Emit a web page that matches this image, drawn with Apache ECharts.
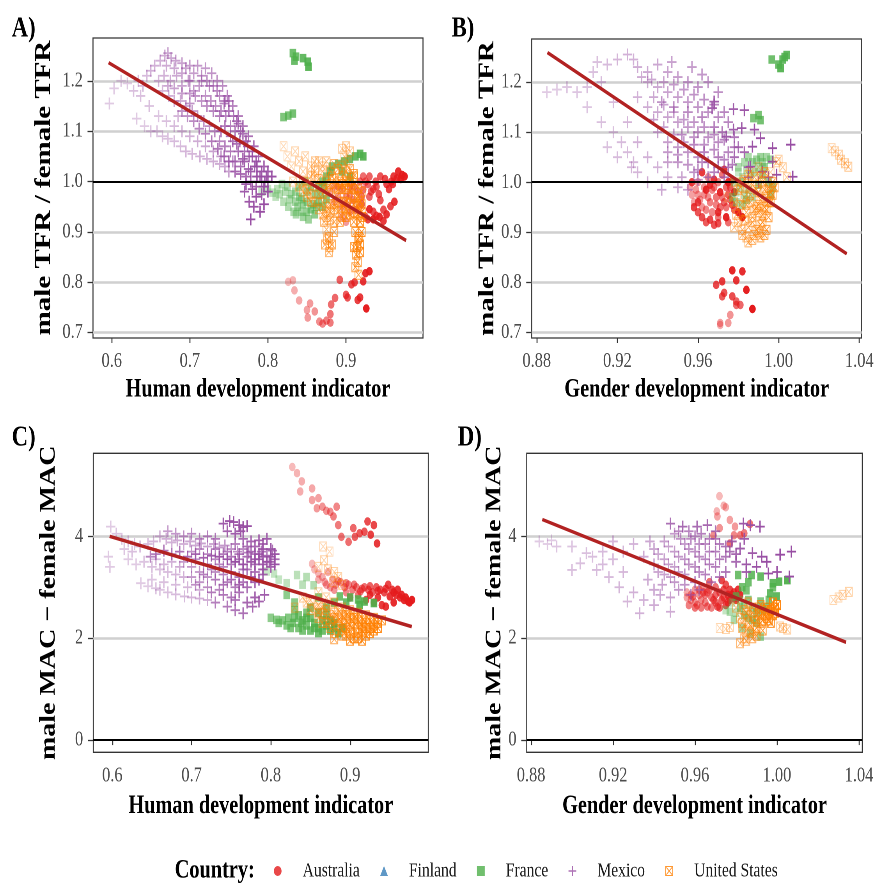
<!DOCTYPE html>
<html>
<head>
<meta charset="utf-8">
<script src="https://cdn.jsdelivr.net/npm/echarts@6/dist/echarts.min.js"></script>
<style>
html,body{margin:0;padding:0;background:#fff;overflow:hidden;}
#wrap{width:875px;height:886px;overflow:hidden;position:relative;background:#fff;}
#chart{width:1122px;height:886px;transform:scaleX(0.78);transform-origin:0 0;}
</style>
</head>
<body>
<div id="wrap"><div id="chart"></div></div>
<script>
// ---------------- DATA ----------------
const countries = ['Australia', 'Finland', 'France', 'Mexico', 'United States'];
const ticksHDI = [0.6, 0.7, 0.8, 0.9];
const ticksGDI = [0.88, 0.92, 0.96, 1.00, 1.04];
const ticksTFR = [0.7, 0.8, 0.9, 1.0, 1.1, 1.2];
const ticksMAC = [0, 2, 4];
const refTFR = 1.0;
const refMAC = 0;
const xNameHDI = 'Human development indicator';
const xNameGDI = 'Gender development indicator';
const yNameTFR = 'male TFR / female TFR';
const yNameMAC = 'male MAC \u2212 female MAC';
const panelLabels = ['A)', 'B)', 'C)', 'D)'];

// points: [indicator, outcome, year]
// Panel A: HDI vs TFR ratio
const mexA = [[0.597,1.155,1990],[0.603,1.185,1990],[0.612,1.2,1990],[0.62,1.195,1990],[0.628,1.18,1992],[0.634,1.2,1992],[0.64,1.19,1993],[0.645,1.21,1993],[0.637,1.17,1992],[0.65,1.22,1995],
[0.655,1.23,1995],[0.662,1.24,1995],[0.668,1.25,1996],[0.672,1.255,1997],[0.676,1.245,1997],[0.682,1.24,1998],[0.69,1.235,1998],[0.7,1.23,1999],[0.71,1.23,2000],[0.72,1.225,2000],[0.728,1.215,2001],[0.735,1.2,2002],[0.742,1.19,2003],[0.748,1.17,2004],[0.755,1.15,2005],[0.762,1.13,2006],[0.768,1.11,2007],[0.775,1.09,2008],[0.782,1.07,2009],[0.788,1.05,2010],[0.795,1.03,2011],[0.8,1.02,2012],
[0.66,1.2,1994],[0.667,1.21,1995],[0.675,1.2,1996],[0.683,1.21,1997],[0.69,1.19,1998],[0.698,1.2,1999],[0.705,1.18,2000],[0.712,1.19,2000],[0.72,1.17,2001],[0.727,1.16,2002],[0.733,1.15,2003],[0.74,1.14,2004],[0.746,1.13,2004],[0.752,1.11,2005],[0.758,1.1,2006],[0.764,1.08,2007],[0.77,1.06,2008],[0.776,1.05,2009],[0.783,1.03,2010],[0.79,1.01,2011],[0.796,1.0,2012],
[0.665,1.18,1994],[0.673,1.17,1995],[0.68,1.16,1996],[0.688,1.16,1997],[0.695,1.15,1998],[0.703,1.14,1999],[0.71,1.13,2000],[0.718,1.12,2001],[0.725,1.11,2002],[0.732,1.1,2003],[0.738,1.08,2004],[0.745,1.07,2005],[0.752,1.06,2006],[0.758,1.04,2007],[0.765,1.03,2008],[0.772,1.01,2009],[0.778,1.0,2010],[0.785,0.99,2011],[0.77,0.98,2012],[0.776,0.96,2013],[0.782,0.95,2014],[0.79,0.94,2015],[0.778,0.925,2015],[0.8,1.0,2013],[0.792,0.975,2013],[0.805,1.01,2014],
[0.7,1.2,2001],[0.715,1.21,2002],[0.725,1.19,2003],[0.735,1.18,2004],[0.745,1.16,2006],[0.75,1.14,2007],[0.76,1.12,2008],[0.765,1.1,2009],[0.772,1.08,2010],[0.78,1.06,2011],[0.785,1.04,2012],[0.792,1.02,2013],[0.74,1.1,2006],[0.755,1.08,2008],[0.762,1.06,2009],[0.77,1.04,2011],[0.778,1.02,2012],[0.786,1.01,2014],[0.795,0.99,2015],[0.8,0.98,2015],
[0.632,1.125,1990],[0.642,1.11,1990],[0.65,1.1,1991],[0.658,1.1,1991],[0.665,1.09,1992],[0.672,1.085,1992],[0.68,1.08,1993],[0.688,1.07,1993],[0.695,1.06,1994],[0.703,1.055,1994],[0.713,1.05,1995],[0.722,1.045,1995],[0.73,1.04,1996],[0.738,1.035,1996],[0.745,1.03,1997],[0.75,1.02,1998],[0.66,1.13,1991],[0.67,1.12,1992],[0.68,1.11,1993],[0.69,1.1,1994],[0.7,1.09,1995],[0.71,1.08,1996],[0.72,1.07,1997],[0.73,1.06,1998],[0.74,1.05,1999],[0.755,1.04,2000],[0.648,1.15,1992],[0.685,1.13,1994],
[0.67,1.23,1996],[0.68,1.225,1997],[0.69,1.215,1998],[0.695,1.225,1998],[0.705,1.215,1999],[0.715,1.2,2000],[0.722,1.2,2001],[0.73,1.19,2002],[0.738,1.17,2003],[0.744,1.155,2004],[0.75,1.16,2005],[0.756,1.13,2006],[0.762,1.115,2007],[0.768,1.095,2008],[0.774,1.07,2009],[0.78,1.05,2010],[0.786,1.03,2011],[0.792,1.0,2012],[0.798,1.01,2013],[0.775,1.025,2012],[0.768,1.045,2010],[0.76,1.075,2008],[0.752,1.09,2007],[0.745,1.11,2006],[0.738,1.13,2005],[0.73,1.14,2004],[0.722,1.15,2003],[0.715,1.16,2002],[0.707,1.17,2001],[0.7,1.175,2000],[0.69,1.175,1999],[0.68,1.185,1998],[0.672,1.19,1997],[0.785,0.97,2014],[0.795,0.955,2015],[0.78,0.985,2013],[0.772,0.995,2012],[0.765,1.015,2011],[0.758,1.02,2010],[0.75,1.04,2009],[0.744,1.05,2008],[0.736,1.065,2007],[0.728,1.08,2006],[0.72,1.095,2005],[0.712,1.105,2004],[0.705,1.12,2003],[0.697,1.13,2002],[0.69,1.14,2001],[0.7,1.155,2001]];
const usaA = [[0.82,1.07,1990],[0.825,1.05,1990],[0.83,1.03,1991],[0.835,1.06,1991],[0.84,1.04,1992],[0.845,1.02,1992],[0.848,1.05,1993],[0.855,1.03,1994],[0.86,1.01,1994],[0.85,1.0,1993],[0.865,1.04,1995],[0.87,1.02,1995],[0.895,1.065,1992],[0.9,1.07,1993],[0.905,1.06,1994],[0.898,1.05,1995],[0.902,1.04,1996],[0.895,1.03,1997],[0.84,0.99,1993],[0.832,1.0,1991],
[0.86,0.99,1997],[0.865,0.975,1998],[0.87,0.99,1999],[0.875,1.0,2000],[0.878,0.98,2000],[0.882,1.01,2001],[0.885,0.99,2001],[0.888,0.97,2002],[0.892,1.0,2002],[0.895,0.985,2003],[0.898,0.96,2003],[0.9,1.0,2004],[0.903,0.975,2004],[0.906,0.99,2005],[0.91,1.01,2005],[0.912,0.97,2006],[0.915,0.99,2006],[0.918,0.96,2007],[0.92,0.98,2007],[0.87,0.96,1998],[0.875,0.95,1999],[0.88,0.94,2000],[0.885,0.955,2001],[0.89,0.94,2002],[0.895,0.93,2003],[0.9,0.945,2004],[0.905,0.955,2005],[0.91,0.94,2006],[0.915,0.95,2008],[0.92,0.94,2009],[0.88,1.02,2000],[0.89,1.025,2001],[0.9,1.02,2003],[0.91,1.015,2005],[0.86,0.96,1997],[0.855,0.975,1996],
[0.872,0.92,1999],[0.875,0.905,2000],[0.878,0.89,2001],[0.873,0.875,2000],[0.878,0.86,1999],[0.882,0.875,2002],[0.885,0.9,2003],[0.91,0.92,2006],[0.912,0.9,2007],[0.915,0.885,2008],[0.91,0.87,2007],[0.913,0.855,2006],[0.918,0.86,2009],[0.915,0.84,2008],[0.912,0.83,2005],[0.916,0.815,2004],[0.92,0.9,2010],[0.918,0.875,2009],
[0.845,1.0,1995],[0.85,0.985,1996],[0.855,1.01,1997],[0.86,1.02,1998],[0.865,1.005,1999],[0.87,0.975,2000],[0.875,0.985,2001],[0.88,0.995,2002],[0.885,1.005,2003],[0.89,0.985,2004],[0.895,0.995,2005],[0.9,0.985,2006],[0.905,1.0,2007],[0.91,0.985,2008],[0.915,0.97,2009],[0.92,0.955,2010],[0.865,0.945,1999],[0.87,0.935,2000],[0.875,0.94,2001],[0.88,0.955,2002],[0.885,0.945,2003],[0.89,0.96,2004],[0.895,0.95,2005],[0.9,0.96,2006],[0.905,0.935,2007],[0.91,0.955,2008],[0.915,0.935,2009],[0.88,0.925,2001],[0.885,0.92,2002],[0.875,0.93,2000],[0.86,1.04,1996],[0.87,1.03,1997],[0.875,1.04,1998],[0.885,1.035,1999],[0.895,1.01,2000],[0.905,1.025,2001],[0.855,0.96,1997],[0.85,0.97,1996],[0.845,0.98,1995],[0.9,0.93,2005],[0.892,0.92,2004],[0.918,0.92,2010],[0.921,0.93,2011],[0.876,0.885,2001],[0.879,0.87,2002],[0.914,0.87,2007],[0.917,0.89,2009]];
const fraA = [[0.832,1.255,2008],[0.834,1.24,2009],[0.845,1.245,2010],[0.851,1.238,2011],[0.852,1.228,2012],[0.836,1.248,2008],
[0.82,1.128,2005],[0.826,1.131,2006],[0.832,1.135,2007],
[0.792,0.98,1990],[0.8,0.985,1991],[0.806,0.978,1992],[0.812,0.985,1993],[0.818,0.995,1994],[0.825,0.99,1995],[0.83,0.975,1996],[0.835,0.96,1997],[0.84,0.97,1998],[0.845,0.955,1999],[0.85,0.94,2000],[0.855,0.945,2001],[0.86,0.935,2002],[0.84,0.99,1998],[0.848,1.0,1999],[0.855,0.99,2000],[0.86,0.975,2001],[0.865,0.96,2002],[0.87,0.95,2003],[0.875,0.965,2004],[0.865,0.99,2003],[0.87,1.0,2004],[0.875,1.01,2005],[0.88,1.02,2006],[0.82,0.96,1994],[0.826,0.95,1995],[0.833,0.94,1996],[0.845,0.93,1998],[0.852,0.925,1999],
[0.882,1.03,2006],[0.89,1.035,2007],[0.898,1.04,2008],[0.905,1.045,2009],[0.912,1.05,2010],[0.918,1.055,2011],[0.922,1.05,2012],[0.895,1.02,2007],[0.905,1.01,2008],
[0.81,0.97,1992],[0.815,0.975,1993],[0.822,0.98,1994],[0.828,0.965,1995],[0.838,0.95,1997],[0.843,0.965,1998],[0.85,0.96,1999],[0.858,0.955,2001],[0.862,0.95,2002],[0.868,0.975,2003],[0.872,0.99,2004],[0.85,0.98,1999],[0.835,0.98,1996],[0.836,0.935,1996],[0.842,0.94,1997]];
const ausA = [[0.88,0.98,1993],[0.885,0.96,1994],[0.89,0.99,1995],[0.895,0.95,1996],[0.9,0.97,1997],[0.905,0.99,1998],[0.905,0.94,1998],[0.909,0.963,1999],[0.913,0.944,2000],[0.918,1.0,2001],[0.922,1.01,2002],[0.922,0.984,2002],[0.928,0.995,2003],[0.93,0.97,2003],[0.93,1.01,2004],[0.935,0.985,2005],[0.939,0.99,2005],[0.944,1.01,2006],[0.944,0.963,2006],[0.948,0.944,2007],[0.952,0.995,2008],[0.957,0.951,2008],[0.958,1.0,2009],[0.961,1.01,2010],[0.965,1.006,2011],[0.967,1.02,2012],[0.972,1.013,2013],[0.975,1.01,2014],[0.939,0.932,2009],[0.948,0.922,2010],[0.928,0.925,2008],[0.935,0.94,2007],[0.92,0.955,2004],[0.895,0.93,1994],[0.9,0.92,1995],[0.925,0.93,2006],
[0.885,0.99,1994],[0.89,0.97,1995],[0.895,0.985,1996],[0.9,0.955,1997],[0.905,0.975,1998],[0.91,0.99,1999],[0.915,0.98,2000],[0.92,0.97,2001],[0.925,1.0,2002],[0.932,0.98,2004],[0.938,1.0,2005],[0.942,0.975,2006],[0.95,1.005,2008],[0.955,0.985,2009],[0.96,0.995,2010],[0.97,1.005,2013],[0.962,0.96,2011],[0.952,0.935,2011],[0.943,0.93,2012],[0.935,0.925,2013],[0.93,0.945,2012],
[0.826,0.801,1990],[0.832,0.804,1991],[0.834,0.784,1992],[0.84,0.764,1993],[0.85,0.745,1994],[0.854,0.758,1995],[0.86,0.742,1996],[0.851,0.73,1995],[0.866,0.722,1997],[0.87,0.718,1998],[0.875,0.724,1999],[0.88,0.72,2000],[0.88,0.737,2001],[0.881,0.756,2002],[0.886,0.769,2003],[0.892,0.805,2004],[0.9,0.775,2005],[0.902,0.77,2006],[0.907,0.796,2007],[0.911,0.8,2008],[0.915,0.765,2009],[0.918,0.77,2010],[0.922,0.802,2011],[0.925,0.818,2012],[0.93,0.822,2013],[0.926,0.748,2014]];
const finA = [];

// Panel B: GDI vs TFR ratio
const mexB = [[0.885,1.18,1990],[0.89,1.185,1990],[0.895,1.19,1991],[0.9,1.18,1991],[0.905,1.19,1992],[0.91,1.24,1992],[0.915,1.235,1993],[0.908,1.22,1992],[0.92,1.245,1994],[0.925,1.255,1995],[0.928,1.245,1995],[0.912,1.2,1993],
[0.905,1.15,1991],[0.912,1.12,1992],[0.918,1.1,1992],[0.922,1.08,1993],[0.925,1.06,1993],[0.928,1.04,1994],[0.93,1.02,1994],[0.935,1.05,1995],[0.94,1.03,1995],[0.945,1.01,1996],[0.95,0.99,1997],[0.955,0.985,1998],[0.935,1.0,1996],[0.942,0.985,1997],[0.92,1.05,1993],[0.927,1.03,1994],[0.915,1.07,1992],[0.93,1.08,1995],[0.925,1.12,1994],[0.918,1.16,1993],
[0.93,1.23,1996],[0.935,1.22,1997],[0.94,1.235,1997],[0.945,1.22,1998],[0.95,1.21,1999],[0.955,1.2,2000],[0.96,1.19,2001],[0.965,1.2,2001],[0.97,1.18,2002],[0.935,1.2,1996],[0.94,1.19,1997],[0.945,1.18,1998],[0.95,1.17,1999],[0.955,1.16,2000],[0.96,1.15,2001],[0.965,1.14,2002],[0.97,1.13,2003],[0.975,1.12,2004],[0.93,1.17,1995],[0.935,1.15,1996],[0.94,1.14,1997],[0.945,1.13,1998],[0.95,1.12,1999],[0.955,1.11,2000],[0.96,1.1,2001],[0.965,1.09,2002],[0.97,1.08,2003],[0.975,1.06,2004],[0.94,1.1,1998],[0.945,1.08,1999],[0.95,1.07,2000],[0.955,1.06,2001],[0.96,1.05,2002],[0.965,1.04,2003],[0.97,1.03,2004],[0.95,1.04,2001],[0.958,1.02,2002],[0.965,1.01,2004],[0.945,1.06,2000],[0.962,1.13,2004],[0.968,1.11,2005],[0.955,1.14,2003],[0.948,1.15,2002],[0.942,1.16,2001],[0.938,1.125,1999],[0.952,1.095,2003],[0.958,1.075,2004],[0.963,1.06,2005],[0.97,1.05,2006],[0.975,1.03,2007],[0.972,1.1,2006],[0.978,1.09,2007],[0.98,1.07,2008],[0.978,1.05,2009],[0.983,1.06,2010],[0.985,1.03,2010],
[0.932,1.21,1996],[0.937,1.205,1997],[0.943,1.2,1998],[0.948,1.195,1999],[0.953,1.185,2000],[0.958,1.175,2001],[0.963,1.165,2002],[0.968,1.155,2003],[0.973,1.14,2004],[0.938,1.17,1997],[0.943,1.155,1998],[0.948,1.14,1999],[0.953,1.125,2000],[0.958,1.12,2001],[0.963,1.11,2002],[0.968,1.095,2003],[0.973,1.085,2004],[0.978,1.07,2005],[0.943,1.11,1998],[0.948,1.095,1999],[0.953,1.08,2000],[0.958,1.09,2001],[0.963,1.075,2002],[0.968,1.065,2003],[0.973,1.045,2004],[0.977,1.035,2005],[0.955,1.035,2001],[0.96,1.025,2002],[0.962,1.04,2003],[0.968,1.02,2005],[0.973,1.01,2006],[0.95,1.055,2000],[0.945,1.04,1999],[0.952,1.01,1998],[0.96,1.005,2000],[0.957,1.23,1999],[0.962,1.215,2000],[0.947,1.24,1998],
[0.9776,1.146,2012],[0.983,1.144,2013],[0.9817,1.108,2013],[0.988,1.105,2014],[0.991,1.088,2014],[0.987,1.071,2014],[0.997,1.068,2015],[1.006,1.075,2015],[0.997,1.041,2015],[0.992,1.021,2015],[0.999,1.015,2015],[1.007,1.011,2015],[0.986,1.031,2014],[0.9776,1.105,2012],[0.974,1.091,2012],[0.968,1.161,2011],[0.967,1.148,2011],[0.99,1.0,2014],[0.995,1.01,2015],[0.985,1.01,2013]];
const usaB = [[0.982,1.0,2000],[0.985,0.99,2001],[0.988,1.01,2002],[0.99,0.98,2003],[0.992,1.0,2004],[0.995,0.99,2005],[0.983,0.97,2001],[0.986,0.96,2002],[0.989,0.95,2003],[0.991,0.965,2004],[0.994,0.97,2005],[0.996,0.98,2006],[0.984,0.94,2002],[0.987,0.93,2003],[0.99,0.94,2004],[0.993,0.95,2006],[0.981,0.955,2000],[0.98,0.985,1999],[0.997,1.0,2007],[0.993,1.02,2006],[0.978,0.96,1998],[0.979,0.935,1999],
[0.975,0.97,1990],[0.978,1.0,1991],[0.996,1.02,1992],[0.999,1.04,1993],[1.002,1.03,1994],[1.004,1.01,1995],[1.0,1.045,1993],[0.99,1.03,1992],[0.986,1.02,1991],
[0.98,0.92,1998],[0.982,0.905,1999],[0.984,0.89,2000],[0.985,0.88,2001],[0.987,0.885,2002],[0.99,0.9,2004],[0.991,0.89,2005],[0.993,0.895,2006],[0.978,0.91,1997],[0.992,0.92,2005],
[0.981,0.99,1999],[0.983,1.005,2000],[0.985,1.015,2001],[0.987,0.995,2002],[0.989,0.985,2003],[0.991,1.01,2004],[0.993,0.985,2005],[0.995,0.96,2006],[0.997,0.975,2007],[0.984,0.955,2001],[0.986,0.975,2002],[0.988,0.945,2003],[0.99,0.955,2004],[0.992,0.935,2005],[0.994,0.945,2006],[0.996,0.96,2007],[0.983,0.925,2001],[0.985,0.91,2002],[0.987,0.92,2003],[0.989,0.905,2004],[0.991,0.915,2005],[0.982,0.895,2000],[0.988,0.895,2003],[0.994,0.905,2006],[0.995,0.93,2007],[0.998,0.99,2008],
[1.0263,1.068,1990],[1.028,1.062,1991],[1.03,1.055,1992],[1.031,1.045,1993],[1.033,1.038,1994],[1.0346,1.031,1995]];
const fraB = [[0.9966,1.245,2008],[1.0,1.235,2009],[1.002,1.245,2010],[1.004,1.254,2011],[1.001,1.228,2012],[1.003,1.25,2010],
[0.9875,1.128,2005],[0.99,1.134,2006],[0.991,1.124,2007],
[0.98,1.02,1990],[0.982,1.01,1991],[0.984,1.025,1992],[0.986,1.015,1993],[0.988,1.02,1994],[0.99,1.03,1995],[0.992,1.04,1996],[0.994,1.05,1997],[0.996,1.045,1998],[0.981,0.99,1992],[0.983,0.975,1993],[0.985,0.985,1994],[0.987,0.97,1995],[0.979,0.96,1996],[0.982,0.955,1997],[0.984,0.965,1998],[0.995,1.0,1999],[0.997,0.99,2000],[0.996,0.975,2001],[0.99,0.995,2000],
[0.979,0.98,1993],[0.981,1.0,1994],[0.983,1.04,1995],[0.985,1.05,1996],[0.987,1.04,1997],[0.989,1.045,1998],[0.991,1.05,1999],[0.993,1.03,2000],[0.978,1.0,1994],[0.98,1.03,1995],[0.977,0.97,1996],[0.992,1.015,2000]];
const ausB = [[0.956,0.99,1993],[0.958,0.96,1994],[0.96,1.0,1995],[0.96,0.975,1995],[0.962,0.95,1996],[0.963,0.99,1996],[0.965,1.01,1997],[0.965,0.97,1997],[0.967,0.94,1998],[0.967,0.985,1998],[0.969,0.955,1999],[0.97,1.0,1999],[0.97,0.93,2000],[0.972,0.97,2000],[0.972,1.015,2001],[0.974,0.95,2001],[0.974,0.99,2002],[0.975,0.92,2002],[0.976,0.965,2003],[0.977,1.005,2004],[0.978,0.945,2004],[0.964,0.92,2005],[0.968,0.915,2006],[0.97,0.918,2007],[0.96,0.96,2008],[0.957,1.0,2009],[0.962,1.02,2010],[0.966,0.995,2011],[0.971,0.98,2012],[0.975,1.0,2013],[0.98,0.94,2014],[0.982,0.93,2015],[0.978,0.98,2012],[0.96,0.94,2006],[0.973,1.025,2011],
[0.957,0.975,1994],[0.959,0.985,1995],[0.961,0.965,1996],[0.963,0.975,1997],[0.964,0.945,1998],[0.966,0.96,1999],[0.968,0.99,2000],[0.969,0.97,2001],[0.971,0.95,2002],[0.973,0.96,2003],[0.975,0.975,2004],[0.976,0.99,2005],[0.977,0.955,2006],[0.962,0.93,2007],[0.966,0.925,2008],[0.958,0.95,2009],[0.968,1.005,2010],[0.97,0.94,2011],[0.964,0.985,2012],[0.974,0.93,2013],
[0.977,0.824,2013],[0.982,0.822,2012],[0.972,0.802,2010],[0.969,0.795,2008],[0.979,0.804,2011],[0.984,0.785,2014],[0.973,0.779,2006],[0.972,0.772,2005],[0.977,0.772,2007],[0.979,0.762,2004],[0.981,0.755,2003],[0.979,0.755,2002],[0.987,0.747,2015],[0.976,0.735,1996],[0.971,0.719,1994],[0.975,0.719,1995],[0.971,0.715,1992]];
const finB = [];

// Panel C: HDI vs MAC difference
const mexC = [[0.595,3.6,1990],[0.597,3.4,1990],[0.598,4.19,1990],[0.605,4.05,1991],[0.612,3.95,1991],[0.62,3.9,1992],[0.628,3.85,1992],[0.615,3.75,1991],[0.625,3.7,1992],[0.635,3.8,1993],
[0.645,3.85,1993],[0.652,3.9,1994],[0.66,4.0,1994],[0.668,3.95,1995],[0.675,3.88,1995],[0.682,3.92,1996],[0.69,3.85,1996],[0.698,3.9,1997],[0.705,3.82,1997],[0.712,3.86,1998],[0.72,3.8,1998],[0.728,3.85,1999],[0.735,3.78,2000],[0.742,3.82,2000],[0.75,3.75,2001],[0.758,3.7,2002],[0.765,3.75,2003],[0.772,3.68,2004],[0.78,3.65,2005],[0.788,3.7,2006],[0.795,3.62,2007],[0.802,3.72,2008],[0.805,3.55,2009],[0.798,3.5,2010],[0.79,3.45,2011],[0.785,3.55,2012],[0.775,3.5,2013],[0.765,3.45,2014],[0.755,3.5,2015],[0.745,3.55,2014],[0.735,3.6,2013],[0.725,3.62,2012],[0.715,3.58,2011],[0.705,3.65,2010],[0.695,3.6,2009],[0.685,3.7,2008],[0.675,3.65,2007],[0.665,3.72,2006],[0.655,3.65,2005],[0.648,3.6,2004],
[0.74,4.25,2012],[0.748,4.3,2013],[0.753,4.28,2013],[0.76,4.22,2014],[0.765,4.18,2014],[0.77,4.2,2015],[0.745,4.1,2011],[0.755,4.05,2012],[0.762,4.1,2013],
[0.636,3.08,1990],[0.645,3.02,1990],[0.655,2.98,1991],[0.66,2.95,1991],[0.67,2.9,1992],[0.68,2.86,1993],[0.691,2.82,1993],[0.7,2.8,1994],[0.71,2.78,1995],[0.72,2.75,1996],[0.65,3.15,1991],[0.665,3.1,1992],[0.68,3.05,1993],[0.695,3.0,1994],[0.71,2.95,1995],
[0.73,2.7,2005],[0.745,2.62,2006],[0.755,2.55,2007],[0.765,2.49,2008],[0.777,2.62,2010],[0.785,2.72,2011],[0.792,2.85,2012],[0.75,2.8,2007],[0.76,2.9,2008],[0.735,2.95,2004],[0.72,3.0,2003],[0.705,3.05,2002],[0.77,3.0,2009],[0.78,3.1,2010],
[0.69,3.5,1999],[0.7,3.4,2000],[0.71,3.3,2001],[0.72,3.2,2002],[0.73,3.3,2003],[0.74,3.4,2004],[0.75,3.3,2005],[0.76,3.2,2006],[0.77,3.35,2007],[0.78,3.3,2009],[0.79,3.25,2010],[0.8,3.4,2011],[0.72,3.45,2003],[0.73,3.55,2004],[0.74,3.65,2006],[0.75,3.6,2007],[0.76,3.55,2008],[0.77,3.6,2009],[0.78,3.8,2010],[0.79,3.85,2011],[0.8,3.75,2012],[0.795,3.95,2012],[0.785,3.92,2011],[0.775,3.9,2010],[0.765,3.95,2009],[0.73,3.95,2006],[0.72,4.0,2005],[0.71,3.95,2004],[0.7,4.05,2003],[0.69,4.0,2002],[0.68,4.05,2000],[0.67,4.1,1999],[0.7,3.2,2000],[0.71,3.1,2001],[0.745,3.1,2005],[0.755,3.0,2006],[0.765,3.1,2007],[0.78,3.55,2011],[0.79,3.6,2012],[0.805,3.65,2013],
[0.64,3.5,1991],[0.65,3.4,1992],[0.66,3.35,1992],[0.67,3.3,1993],[0.68,3.25,1994],[0.69,3.2,1995],[0.655,3.55,1993],[0.665,3.45,1994],[0.675,3.5,1995],[0.685,3.4,1996],[0.62,3.55,1990],[0.63,3.45,1990],
[0.7,3.7,2001],[0.705,3.55,2001],[0.71,3.75,2002],[0.715,3.45,2002],[0.72,3.65,2003],[0.725,3.35,2003],[0.73,3.75,2004],[0.735,3.45,2004],[0.74,3.25,2005],[0.745,3.7,2005],[0.75,3.45,2006],[0.755,3.85,2006],[0.76,3.65,2007],[0.765,3.35,2007],[0.77,3.8,2008],[0.775,3.7,2008],[0.78,3.45,2009],[0.785,3.65,2010],[0.79,3.75,2011],[0.795,3.5,2012],[0.8,3.6,2013],[0.805,3.45,2014],[0.79,3.35,2013],[0.775,3.2,2011],[0.785,3.15,2012],[0.76,3.05,2010],[0.75,3.15,2009],[0.74,3.05,2008],[0.73,3.15,2007],[0.715,3.25,2005],[0.725,2.9,2006],[0.74,2.85,2007],[0.755,2.75,2008],[0.77,2.7,2010],[0.78,2.8,2011]];
const usaC = [[0.866,3.8,1990],[0.874,3.7,1990],[0.867,3.53,1991],[0.86,3.4,1991],[0.872,3.35,1992],[0.88,3.3,1992],[0.885,3.2,1993],[0.878,3.1,1993],[0.89,3.05,1994],
[0.84,2.8,1995],[0.845,2.7,1996],[0.85,2.75,1996],[0.855,2.6,1997],[0.86,2.65,1998],[0.865,2.5,1998],[0.87,2.55,1999],[0.875,2.45,2000],[0.88,2.5,2000],[0.885,2.4,2001],[0.89,2.45,2002],[0.895,2.35,2003],[0.9,2.4,2004],[0.905,2.3,2005],[0.91,2.35,2006],[0.915,2.25,2007],[0.92,2.3,2008],[0.925,2.2,2009],[0.93,2.25,2010],[0.935,2.3,2011],[0.87,2.3,2000],[0.875,2.2,2001],[0.88,2.1,2002],[0.885,2.25,2003],[0.89,2.15,2004],[0.895,2.05,2005],[0.9,2.15,2006],[0.905,2.0,2007],[0.91,2.1,2008],[0.915,1.95,2009],[0.92,2.05,2010],[0.925,2.1,2011],[0.86,2.4,1999],[0.865,2.3,2000],[0.85,2.55,1998],[0.88,2.7,1997],[0.89,2.6,1998],[0.9,2.55,1999],[0.91,2.5,2000],[0.92,2.45,2002],[0.93,2.4,2004],[0.94,2.35,2006],[0.9,2.25,2005],[0.89,2.3,2004],[0.895,2.2,2006],[0.91,2.2,2007],[0.83,2.6,1995],[0.86,2.9,1993],[0.87,2.8,1994],[0.9,1.95,2008],[0.88,1.98,2003],
[0.885,2.35,2001],[0.895,2.45,2003],[0.905,2.4,2005],[0.915,2.4,2007],[0.925,2.35,2009],[0.935,2.2,2011],[0.9,2.1,2006],[0.91,2.0,2008],[0.92,2.2,2010],[0.88,2.4,2000],[0.875,2.35,1999],[0.865,2.6,1997],[0.87,2.65,1998],[0.885,2.55,2000],[0.895,2.5,2002],[0.905,2.45,2004],[0.915,2.15,2008],[0.93,2.15,2011],[0.89,2.05,2004],[0.86,2.5,1998]];
const fraC = [[0.795,3.31,1990],[0.804,3.27,1991],[0.82,3.08,1992],[0.833,3.24,1993],[0.845,3.2,1994],[0.854,3.04,1995],[0.81,3.15,1991],[0.84,3.05,1993],
[0.807,2.36,2003],[0.815,2.35,2004],[0.822,2.4,2004],[0.828,2.3,2005],[0.835,2.45,2005],[0.84,2.35,2006],[0.845,2.25,2006],[0.85,2.4,2007],[0.855,2.3,2007],[0.86,2.2,2008],[0.865,2.35,2008],[0.87,2.25,2009],[0.875,2.15,2009],[0.88,2.3,2010],[0.885,2.1,2010],[0.845,2.5,2005],[0.83,2.55,2004],[0.86,2.5,2006],[0.87,2.45,2007],[0.825,2.2,2005],[0.84,2.15,2006],[0.86,2.1,2008],[0.89,2.2,2011],[0.87,2.6,2006],[0.88,2.7,2007],[0.85,2.6,2005],[0.83,2.7,2003],[0.82,2.85,2002],[0.86,2.8,2004],
[0.887,2.82,2008],[0.9,2.8,2009],[0.91,2.76,2010],[0.918,2.72,2011],[0.93,2.69,2012],[0.895,2.7,2009],[0.912,2.65,2012],
[0.8,2.4,2002],[0.81,2.3,2003],[0.82,2.25,2004],[0.83,2.4,2004],[0.835,2.2,2005],[0.845,2.4,2006],[0.855,2.2,2007],[0.865,2.15,2008],[0.875,2.35,2009],[0.88,2.2,2010],[0.85,2.15,2007],[0.838,2.3,2005]];
const ausC = [[0.827,5.36,1990],[0.833,5.24,1991],[0.839,5.08,1992],[0.837,4.88,1992],[0.852,4.94,1993],[0.852,4.71,1994],[0.858,4.55,1995],[0.865,4.58,1996],[0.875,4.48,1997],[0.883,4.58,1998],[0.879,4.39,1999],[0.885,4.22,2000],[0.889,3.99,2001],[0.898,3.89,2002],[0.904,4.16,2003],[0.906,3.99,2004],[0.912,4.06,2005],[0.918,4.09,2006],[0.922,4.29,2007],[0.93,4.22,2008],[0.926,4.03,2009],[0.934,3.86,2010],[0.87,4.5,1996],[0.86,4.75,1994],
[0.852,3.46,1990],[0.855,3.35,1990],[0.86,3.27,1991],[0.865,3.2,1992],[0.868,3.1,1993],[0.872,3.3,1992],[0.878,3.15,1994],[0.882,3.05,1995],[0.888,3.1,1996],[0.893,3.0,1997],[0.898,3.05,1998],[0.903,2.95,1999],[0.908,3.0,2000],[0.913,2.92,2001],[0.918,3.0,2002],[0.923,2.95,2003],[0.928,2.9,2004],[0.933,3.0,2005],[0.938,2.95,2006],[0.943,2.9,2007],[0.948,3.05,2008],[0.953,2.95,2009],[0.958,2.85,2010],[0.963,2.8,2011],[0.968,2.75,2012],[0.973,2.72,2013],[0.978,2.75,2014],[0.92,2.75,2008],[0.93,2.7,2009],[0.94,2.65,2010],[0.945,2.62,2011],[0.88,2.95,1996],[0.875,3.0,1995],[0.895,2.9,1998],[0.91,2.85,2001],[0.9,2.8,2004],
[0.86,3.15,1992],[0.87,3.05,1994],[0.885,3.12,1996],[0.895,3.08,1998],[0.905,3.05,2000],[0.915,2.97,2002],[0.925,3.02,2004],[0.935,2.93,2006],[0.945,2.97,2008],[0.955,2.9,2010],[0.96,2.95,2011],[0.965,2.85,2012],[0.97,2.8,2013],[0.975,2.7,2014],[0.95,2.82,2011],[0.955,2.7,2012],[0.935,2.8,2010],[0.925,2.85,2009]];
const finC = [];

// Panel D: GDI vs MAC difference
const mexD = [[0.884,3.9,1990],[0.888,3.85,1990],[0.8925,3.8,1991],[0.89,3.92,1990],[0.9,3.8,1991],[0.907,3.67,1992],[0.904,3.47,1992],[0.9,3.34,1992],[0.912,3.34,1993],[0.923,3.0,1994],[0.927,2.72,1994],[0.933,2.49,1995],[0.948,2.52,1996],[0.91,3.6,1992],[0.915,3.7,1993],[0.92,3.55,1993],[0.918,3.2,1993],[0.925,3.3,1994],[0.93,2.9,1995],[0.935,2.75,1995],[0.94,2.65,1996],[0.915,3.45,1993],[0.925,3.7,1994],[0.93,3.85,1995],[0.92,3.9,1994],
[0.935,3.6,1996],[0.94,3.75,1997],[0.94,3.45,1997],[0.945,3.9,1998],[0.945,3.55,1998],[0.945,3.25,1998],[0.95,4.05,1999],[0.95,3.7,1999],[0.95,3.4,1999],[0.95,3.1,2000],[0.955,3.85,2000],[0.955,3.55,2001],[0.955,3.25,2001],[0.96,4.0,2002],[0.96,3.7,2002],[0.96,3.4,2003],[0.96,3.1,2003],[0.965,3.85,2004],[0.965,3.55,2004],[0.965,3.25,2005],[0.97,3.7,2005],[0.97,3.4,2006],[0.97,3.95,2006],[0.975,3.6,2007],[0.975,3.8,2008],[0.975,3.3,2008],[0.98,3.5,2009],[0.98,3.65,2010],[0.948,4.25,2008],[0.961,4.19,2009],[0.966,4.22,2010],[0.954,4.19,2009],[0.938,3.9,1997],[0.942,3.3,1998],[0.937,3.15,1997],[0.952,2.95,2000],[0.958,2.85,2001],[0.962,2.95,2002],[0.968,3.1,2004],[0.972,3.2,2006],
[0.942,3.65,1997],[0.947,3.8,1998],[0.947,3.45,1999],[0.952,3.6,2000],[0.952,3.3,2000],[0.957,3.75,2001],[0.957,3.45,2002],[0.962,3.6,2003],[0.962,3.85,2003],[0.962,3.3,2004],[0.967,3.7,2004],[0.967,3.45,2005],[0.967,3.95,2005],[0.972,3.55,2006],[0.972,3.85,2007],[0.977,3.7,2008],[0.958,3.95,2002],[0.953,3.95,2001],[0.948,3.2,1999],[0.955,3.05,2001],[0.944,3.05,1998],[0.94,2.95,1997],[0.948,2.8,1998],[0.943,2.85,1997],[0.952,4.1,2003],[0.957,4.1,2004],[0.963,4.05,2005],[0.97,4.1,2007],
[0.9917,4.19,2014],[0.987,4.22,2014],[0.9836,4.25,2013],[1.007,3.7,2015],[1.0015,3.64,2015],[1.006,3.21,2015],[0.9958,3.27,2015],[0.9925,3.6,2014],[0.982,3.76,2012],[0.988,3.67,2013],[0.985,3.45,2013],[0.99,3.4,2014],[0.995,3.5,2015],[0.978,3.9,2011],[0.984,3.95,2012],[1.0,3.3,2015],[0.985,3.3,2013]];
const usaD = [[0.972,2.2,1990],[0.975,2.18,1991],[0.977,2.22,1992],[0.98,2.6,1995],[0.982,2.4,1996],[0.983,2.2,1997],[0.984,2.0,1998],[0.985,2.5,1999],[0.986,2.3,2000],[0.987,2.1,2001],[0.988,2.6,2002],[0.989,2.4,2003],[0.99,2.2,2004],[0.99,2.05,2005],[0.991,2.5,2006],[0.992,2.3,2007],[0.993,2.15,2008],[0.994,2.45,2009],[0.995,2.6,2010],[0.996,2.35,2011],[0.997,2.55,2012],[0.998,2.7,2013],[0.999,2.6,2014],[1.0,2.65,2015],[0.985,1.95,2000],[0.982,1.9,1999],[0.988,2.0,2003],[1.0015,2.23,1993],[1.005,2.17,1994],[1.003,2.2,1993],[1.0275,2.75,1990],[1.03,2.8,1991],[1.032,2.85,1992],[1.035,2.91,1993],[0.986,2.7,2004],[0.992,2.65,2008],[0.984,2.55,2001],
[0.983,2.3,1997],[0.985,2.15,1998],[0.986,2.45,1999],[0.987,2.25,2000],[0.988,2.5,2001],[0.989,2.15,2002],[0.99,2.35,2003],[0.991,2.6,2004],[0.992,2.45,2005],[0.993,2.35,2006],[0.994,2.55,2007],[0.995,2.4,2008],[0.996,2.5,2009],[0.997,2.3,2010],[0.998,2.45,2011],[0.999,2.5,2012]];
const fraD = [[0.981,3.24,2008],[0.9876,3.24,2009],[0.992,3.21,2010],[0.998,3.08,2011],[1.001,3.11,2012],[1.005,3.14,2013],[0.9966,2.88,2010],[0.9998,2.82,2011],[0.98,2.82,2005],[0.977,2.52,1995],[0.979,2.36,1996],[0.987,2.1,1998],[0.992,2.03,1999],[0.988,2.36,2000],[0.992,2.72,2004],[0.985,2.94,2006],[0.982,2.6,2001],[0.984,2.45,2000],[0.99,2.5,2002],[0.995,2.6,2003],[0.983,2.2,1997],[0.978,2.7,1992],[0.975,2.55,1991],[0.986,2.75,2003],
[0.98,2.5,1993],[0.982,2.75,1994],[0.984,2.65,1996],[0.986,2.4,1997],[0.988,2.6,1999],[0.99,2.3,2000],[0.993,2.55,2002],[0.996,2.75,2005],[0.998,3.0,2007],[0.983,3.0,2007],[0.986,3.1,2008]];
const ausD = [[0.9719,4.79,1990],[0.9706,4.49,1991],[0.975,4.57,1992],[0.9709,4.39,1993],[0.977,4.32,1994],[0.9795,4.19,1995],[0.972,4.16,1996],[0.969,4.02,1997],[0.979,4.02,1998],[0.982,4.02,1999],[0.984,4.06,2000],[0.9868,4.24,2001],[0.977,3.86,2002],[0.974,4.6,1991],
[0.956,2.9,1993],[0.958,2.75,1994],[0.96,2.95,1995],[0.961,2.65,1996],[0.962,2.85,1996],[0.964,3.0,1997],[0.965,2.7,1998],[0.966,2.9,1998],[0.968,2.6,1999],[0.968,2.8,2000],[0.97,3.0,2001],[0.97,2.7,2002],[0.972,2.9,2003],[0.972,2.6,2004],[0.974,2.8,2005],[0.975,3.05,2006],[0.976,2.7,2007],[0.977,2.95,2008],[0.978,2.85,2009],[0.98,2.75,2010],[0.981,2.95,2011],[0.982,2.85,2012],[0.963,2.6,2000],[0.959,2.82,2001],[0.967,3.1,2002],[0.973,3.14,2008],[0.957,2.65,1999],
[0.958,2.85,1995],[0.96,2.7,1996],[0.962,2.95,1997],[0.963,2.75,1998],[0.965,2.85,1999],[0.966,2.62,2000],[0.967,2.95,2001],[0.969,2.75,2002],[0.97,2.85,2003],[0.971,2.62,2004],[0.973,2.75,2005],[0.974,2.95,2006],[0.975,2.65,2007],[0.976,2.85,2008],[0.977,2.75,2009],[0.979,2.9,2010],[0.96,2.6,2001],[0.964,2.9,2002],[0.956,2.8,1994],[0.98,2.8,2011]];
const finD = [];

// fitted regression lines (endpoints)
const fitA = [[0.596, 1.236], [0.977, 0.883]];
const fitB = [[0.8853, 1.259], [1.0338, 0.857]];
const fitC = [[0.5966, 4.0], [0.9777, 2.227]];
const fitD = [[0.8855, 4.33], [1.0337, 1.92]];

const yearRange = [1990, 2015];

// ---------------- STYLE / LAYOUT ----------------
const F = '"Liberation Serif", "Times New Roman", serif';
const COL = {'Australia':'#E41A1C','Finland':'#377EB8','France':'#4DAF4A','Mexico':'#984EA3','United States':'#FF7F00'};
const PLUS = 'path://M4.25,0H5.75V4.25H10V5.75H5.75V10H4.25V5.75H0V4.25H4.25Z';
const BOXX = 'path://M0,0H10V10H0Z M1,1V9H9V1Z M1,1.7L1.7,1L9,8.3L8.3,9Z M8.3,1L9,1.7L1.7,9L1,8.3Z';
const SYM = {'Australia':'circle','Finland':'triangle','France':'rect','Mexico':PLUS,'United States':BOXX};
const SIZE = {'Australia':8.5,'Finland':8,'France':8.5,'Mexico':12,'United States':10};

const panels = [
  {grid:{left:119.2, top:38, width:423.1, height:300}, x:[0.576,0.9986], y:[0.6895,1.285], xt:ticksHDI, yt:ticksTFR, xd:1, yd:1, ref:refTFR,
   xn:xNameHDI, yn:yNameTFR, xg:39, yg:48, yfs:29, fit:fitA,
   data:{'Australia':ausA,'Finland':finA,'France':fraA,'Mexico':mexA,'United States':usaA}},
  {grid:{left:681.7, top:39, width:423, height:299}, x:[0.8775,1.0412], y:[0.689,1.286], xt:ticksGDI, yt:ticksTFR, xd:2, yd:1, ref:refTFR,
   xn:xNameGDI, yn:yNameTFR, xg:39, yg:42, yfs:29, fit:fitB,
   data:{'Australia':ausB,'Finland':finB,'France':fraB,'Mexico':mexB,'United States':usaB}},
  {grid:{left:119.6, top:453.3, width:429.5, height:299}, x:[0.576,0.9986], y:[-0.24,5.63], xt:ticksHDI, yt:ticksMAC, xd:1, yd:0, ref:refMAC,
   xn:xNameHDI, yn:yNameMAC, xg:41, yg:43, yfs:28, fit:fitC,
   data:{'Australia':ausC,'Finland':finC,'France':fraC,'Mexico':mexC,'United States':usaC}},
  {grid:{left:675.3, top:453.3, width:430.2, height:299}, x:[0.8779,1.0416], y:[-0.24,5.63], xt:ticksGDI, yt:ticksMAC, xd:2, yd:0, ref:refMAC,
   xn:xNameGDI, yn:yNameMAC, xg:41, yg:27, yfs:28, fit:fitD,
   data:{'Australia':ausD,'Finland':finD,'France':fraD,'Mexico':mexD,'United States':usaD}}
];

const grids = [], xAxes = [], yAxes = [], series = [], vmIdx = [];
panels.forEach((p, i) => {
  grids.push(Object.assign({show:true, borderColor:'#333', borderWidth:1.3, backgroundColor:'#fff', containLabel:false, outerBoundsMode:'none'}, p.grid));
  xAxes.push({type:'value', gridIndex:i, min:p.x[0], max:p.x[1], name:p.xn, nameLocation:'middle', nameGap:p.xg, nameMoveOverlap:false,
    nameTextStyle:{fontFamily:F, fontWeight:'bold', fontSize:26, color:'#000'},
    axisLine:{show:false}, splitLine:{show:false},
    axisTick:{show:true, length:5, customValues:p.xt, lineStyle:{color:'#333', width:1.3}},
    axisLabel:{customValues:p.xt, formatter:v => Number(v).toFixed(p.xd), margin:13, fontFamily:F, fontSize:21, color:'#4d4d4d'}});
  yAxes.push({type:'value', gridIndex:i, min:p.y[0], max:p.y[1], name:p.yn, nameLocation:'middle', nameGap:p.yg, nameRotate:90, nameMoveOverlap:false,
    nameTextStyle:{fontFamily:F, fontWeight:'bold', fontSize:p.yfs, color:'#000'},
    axisLine:{show:false}, splitLine:{show:false},
    axisTick:{show:true, length:7, customValues:p.yt, lineStyle:{color:'#333', width:1.3}},
    axisLabel:{customValues:p.yt, formatter:v => Number(v).toFixed(p.yd), margin:13, fontFamily:F, fontSize:21, color:'#4d4d4d'}});
  series.push({type:'scatter', name:'grid'+i, xAxisIndex:i, yAxisIndex:i, data:[], silent:true, z:1,
    markLine:{silent:true, symbol:['none','none'], z:1, animation:false, label:{show:false},
      lineStyle:{color:'#d0d0d0', width:2.5, type:'solid'},
      data:p.yt.filter(t => t !== p.ref).map(t => ({yAxis:t}))}});
  countries.forEach(c => {
    vmIdx.push(series.length);
    series.push({type:'scatter', name:c, xAxisIndex:i, yAxisIndex:i, data:p.data[c], symbol:SYM[c], symbolSize:SIZE[c],
      itemStyle:{color:COL[c]}, emphasis:{disabled:true}, z:2});
  });
  series.push({type:'line', name:'fit'+i, xAxisIndex:i, yAxisIndex:i, data:p.fit, symbol:'none', z:6, silent:true,
    lineStyle:{color:'#B22222', width:3.5}, emphasis:{disabled:true},
    markLine:{silent:true, symbol:['none','none'], z:4, animation:false, label:{show:false},
      lineStyle:{color:'#000', width:2, type:'solid'}, data:[{yAxis:p.ref}]}});
});

const labelPos = [[15,29],[579,29],[15,438],[587,438]];
const graphics = panelLabels.map((t, i) => ({type:'text', x:labelPos[i][0], y:labelPos[i][1], z:100,
  style:{text:t, font:'bold 29px ' + F, fill:'#000', verticalAlign:'middle'}}));
graphics.push({type:'text', x:224, y:871, z:100, style:{text:'Country:', font:'bold 26px ' + F, fill:'#000', verticalAlign:'middle'}});

const chart = echarts.init(document.getElementById('chart'), null, {renderer:'canvas', devicePixelRatio:2});
chart.setOption({
  animation:false,
  backgroundColor:'#fff',
  grid:grids, xAxis:xAxes, yAxis:yAxes, series:series,
  graphic:graphics,
  visualMap:{show:false, type:'continuous', dimension:2, min:yearRange[0], max:yearRange[1], seriesIndex:vmIdx, inRange:{opacity:[0.3,1]}},
  legend:{data:countries, left:351, top:861, padding:0, itemGap:26, itemWidth:10, itemHeight:10, selectedMode:false,
    formatter:n => '{g|}' + n,
    textStyle:{fontFamily:F, fontSize:20, color:'#1a1a1a', rich:{g:{width:22}}}},
  tooltip:{show:false}
});
</script>
</body>
</html>
